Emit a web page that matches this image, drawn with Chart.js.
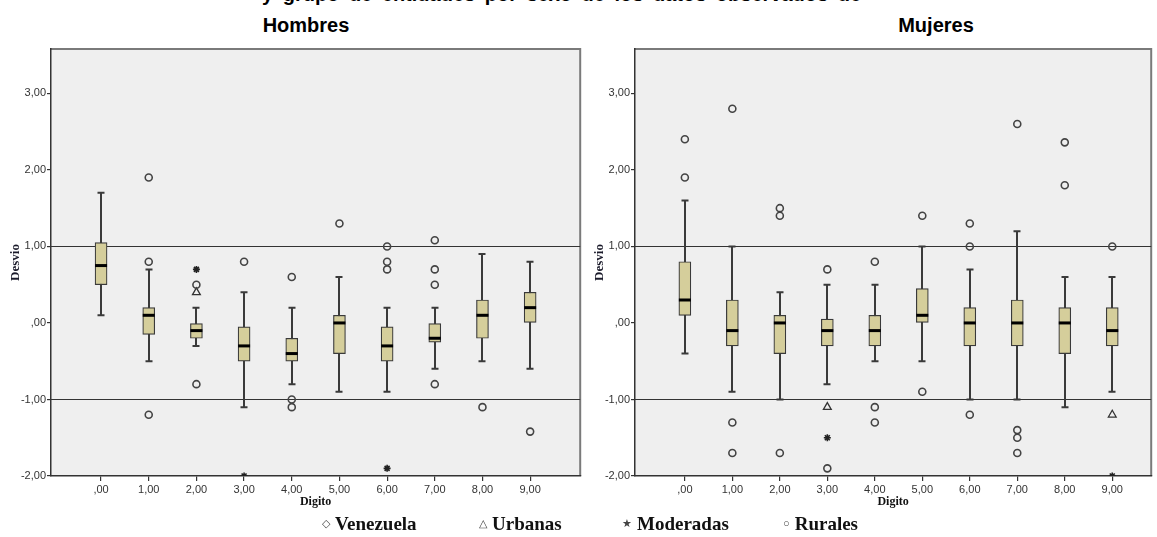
<!DOCTYPE html>
<html>
<head>
<meta charset="utf-8">
<script src="https://cdn.jsdelivr.net/npm/chart.js@4.4.0/dist/chart.umd.min.js"></script>
<style>
  body { margin: 0; background: #fff; width: 1157px; height: 537px; overflow: hidden; position: relative; font-family: "Liberation Sans", Arial, sans-serif; }
  .t { position: absolute; font-weight: bold; color: #000; white-space: nowrap; text-align: center; }
  canvas { position: absolute; }
  .leg { position: absolute; top: 513px; font-family: "Liberation Serif", "Times New Roman", serif; font-weight: bold; font-size: 19px; color: #111; white-space: nowrap; }
  .leg span { font-size: 11px; font-weight: normal; margin-right: 5px; vertical-align: 3px; color: #444; }
</style>
</head>
<body>
<div class="t" style="left:262px; top:-17px; font-size:20px; text-align:left; word-spacing:4px;">y grupo de entidades por sexo de los datos observados de</div>
<div class="t" style="left:206px; width:200px; top:14px; font-size:20px;">Hombres</div>
<div class="t" style="left:836px; width:200px; top:14px; font-size:20px;">Mujeres</div>
<canvas id="hombres" width="586" height="475" style="left:0px; top:40px;"></canvas>
<canvas id="mujeres" width="573" height="475" style="left:584px; top:40px;"></canvas>
<div class="leg" style="left:322px;"><span>◇</span>Venezuela</div>
<div class="leg" style="left:479px;"><span>△</span>Urbanas</div>
<div class="leg" style="left:622px;"><span>★</span>Moderadas</div>
<div class="leg" style="left:783px;"><span>○</span>Rurales</div>
<script>
// digits on the x axis
const digitos = [0, 1, 2, 3, 4, 5, 6, 7, 8, 9];
const yTicks = [-2, -1, 0, 1, 2, 3];

// Hombres: whisker low, Q1, median, Q3, whisker high
const hMin = [0.1, -0.5, -0.3, -1.1, -0.8, -0.9, -0.9, -0.6, -0.5, -0.6];
const hQ1 = [0.5, -0.15, -0.2, -0.5, -0.5, -0.4, -0.5, -0.25, -0.2, 0.0];
const hMed = [0.75, 0.1, -0.1, -0.3, -0.4, 0.0, -0.3, -0.2, 0.1, 0.2];
const hQ3 = [1.05, 0.2, 0.0, -0.05, -0.2, 0.1, -0.05, 0.0, 0.3, 0.4];
const hMax = [1.7, 0.7, 0.2, 0.4, 0.2, 0.6, 0.2, 0.2, 0.9, 0.8];
// outliers [digit, value]
const hRurales = [[1, 1.9], [1, 0.8], [1, -1.2], [2, 0.5], [2, -0.8], [3, 0.8], [4, 0.6], [4, -1.0], [4, -1.1],
  [5, 1.3], [6, 1.0], [6, 0.8], [6, 0.7], [7, 1.08], [7, 0.7], [7, 0.5], [7, -0.8], [8, -1.1], [9, -1.42]];
const hUrbanas = [[2, 0.4]];
const hModeradas = [[2, 0.7], [3, -2.0], [6, -1.9]];

// Mujeres
const mMin = [-0.4, -0.9, -1.0, -0.8, -0.5, -0.5, -1.0, -1.0, -1.1, -0.9];
const mQ1 = [0.1, -0.3, -0.4, -0.3, -0.3, 0.0, -0.3, -0.3, -0.4, -0.3];
const mMed = [0.3, -0.1, 0.0, -0.1, -0.1, 0.1, 0.0, 0.0, 0.0, -0.1];
const mQ3 = [0.8, 0.3, 0.1, 0.05, 0.1, 0.45, 0.2, 0.3, 0.2, 0.2];
const mMax = [1.6, 1.0, 0.4, 0.5, 0.5, 1.0, 0.7, 1.2, 0.6, 0.6];
const mRurales = [[0, 2.4], [0, 1.9], [1, 2.8], [1, -1.3], [1, -1.7], [2, 1.5], [2, 1.4], [2, -1.7], [3, 0.7], [3, -1.9],
  [4, 0.8], [4, -1.1], [4, -1.3], [5, 1.4], [5, -0.9], [6, 1.3], [6, 1.0], [6, -1.2], [7, 2.6], [7, -1.4], [7, -1.5],
  [7, -1.7], [8, 2.36], [8, 1.8], [9, 1.0]];
const mUrbanas = [[3, -1.1], [9, -1.2]];
const mModeradas = [[3, -1.5], [9, -2.0]];

const refLines = [1, -1];

function fmt(v) {
  if (v === 0) return ",00";
  return v.toFixed(2).replace(".", ",");
}

function pts(list) {
  return list.map((p) => ({ x: p[0], y: p[1] }));
}

// background, reference lines, whiskers and medians
const boxPlugin = {
  id: "boxes",
  beforeDraw(chart) {
    const a = chart.chartArea;
    const c = chart.ctx;
    c.save();
    c.fillStyle = "#efefef";
    c.fillRect(a.left, a.top, a.right - a.left, a.bottom - a.top);
    c.strokeStyle = "#7a7a7a";
    c.lineWidth = 2;
    c.beginPath();
    c.moveTo(a.left, a.top);
    c.lineTo(a.right, a.top);
    c.lineTo(a.right, a.bottom);
    c.stroke();
    c.restore();
  },
  beforeDatasetsDraw(chart) {
    const b = chart.options.plugins.boxes;
    const xs = chart.scales.x, ys = chart.scales.y;
    const c = chart.ctx;
    const a = chart.chartArea;
    c.save();
    c.strokeStyle = "#333";
    c.lineWidth = 1.2;
    refLines.forEach((v) => {
      const y = Math.round(ys.getPixelForValue(v)) + 0.5;
      c.beginPath();
      c.moveTo(a.left, y);
      c.lineTo(a.right, y);
      c.stroke();
    });
    c.strokeStyle = "#3a3a3a";
    c.lineWidth = 2;
    digitos.forEach((d, i) => {
      const x = Math.round(xs.getPixelForValue(d));
      const y1 = ys.getPixelForValue(b.min[i]);
      const y2 = ys.getPixelForValue(b.max[i]);
      c.beginPath();
      c.moveTo(x, y1);
      c.lineTo(x, y2);
      c.moveTo(x - 3.5, y1);
      c.lineTo(x + 3.5, y1);
      c.moveTo(x - 3.5, y2);
      c.lineTo(x + 3.5, y2);
      c.stroke();
    });
    c.restore();
  },
  afterDatasetDraw(chart, args) {
    if (args.index !== 0) return;
    const b = chart.options.plugins.boxes;
    const xs = chart.scales.x, ys = chart.scales.y;
    const c = chart.ctx;
    c.save();
    c.strokeStyle = "#000";
    c.lineWidth = 3;
    digitos.forEach((d, i) => {
      const x = xs.getPixelForValue(d);
      const y = ys.getPixelForValue(b.med[i]);
      c.beginPath();
      c.moveTo(x - 6, y);
      c.lineTo(x + 6, y);
      c.stroke();
    });
    c.restore();
  },
};

function makeChart(id, lo, q1, med, q3, hi, rurales, urbanas, moderadas, xMax) {
  return new Chart(document.getElementById(id), {
    data: {
      datasets: [
        {
          type: "bar",
          data: digitos.map((d, i) => ({ x: d, y: [q1[i], q3[i]] })),
          backgroundColor: "#d5ce9b",
          borderColor: "#3a3a3a",
          borderWidth: 1.2,
          borderSkipped: false,
          barThickness: 12,
        },
        {
          type: "scatter",
          data: pts(rurales),
          pointStyle: "circle",
          radius: 3.5,
          borderColor: "#444",
          backgroundColor: "rgba(0,0,0,0)",
          borderWidth: 1.6,
        },
        {
          type: "scatter",
          data: pts(urbanas),
          pointStyle: "triangle",
          radius: 4.5,
          borderColor: "#333",
          backgroundColor: "rgba(0,0,0,0)",
          borderWidth: 1.3,
        },
        {
          type: "scatter",
          data: pts(moderadas),
          pointStyle: "star",
          radius: 3.5,
          borderColor: "#222",
          borderWidth: 1.6,
        },
      ],
    },
    options: {
      responsive: false,
      animation: false,
      devicePixelRatio: 1,
      layout: { padding: { top: 9, right: 2, left: 0, bottom: 0 } },
      plugins: {
        legend: { display: false },
        tooltip: { enabled: false },
        boxes: { min: lo, med: med, max: hi },
      },
      scales: {
        x: {
          type: "linear",
          offset: false,
          min: -1.05,
          max: xMax,
          afterBuildTicks: (s) => { s.ticks = digitos.map((v) => ({ value: v })); },
          afterFit: (s) => { s.height = 39; },
          ticks: {
            autoSkip: false,
            maxRotation: 0,
            padding: 2,
            color: "#333",
            font: { family: "Liberation Sans", size: 11 },
            callback: (v) => fmt(v),
          },
          grid: { drawOnChartArea: false, offset: false, tickLength: 5, color: "#333", lineWidth: 1.2 },
          border: { color: "#333", width: 1.5 },
          title: {
            display: true,
            text: "Digito",
            color: "#111",
            padding: { top: 0, bottom: 6 },
            font: { family: "Liberation Serif", size: 12, weight: "bold" },
          },
        },
        y: {
          min: -2,
          max: 3.58,
          afterBuildTicks: (s) => { s.ticks = yTicks.map((v) => ({ value: v })); },
          afterFit: (s) => { s.width = 51; },
          ticks: {
            padding: 1,
            color: "#333",
            font: { family: "Liberation Sans", size: 11 },
            callback: (v) => fmt(v),
          },
          grid: { drawOnChartArea: false, tickLength: 4, color: "#333", lineWidth: 1.2 },
          border: { color: "#333", width: 1.5 },
          title: {
            display: true,
            text: "Desvio",
            color: "#1a1a2a",
            padding: { top: 8, bottom: 0 },
            font: { family: "Liberation Serif", size: 13, weight: "bold" },
          },
        },
      },
    },
    plugins: [boxPlugin],
  });
}

makeChart("hombres", hMin, hQ1, hMed, hQ3, hMax, hRurales, hUrbanas, hModeradas, 10.05);
makeChart("mujeres", mMin, mQ1, mMed, mQ3, mMax, mRurales, mUrbanas, mModeradas, 9.82);
</script>
</body>
</html>
